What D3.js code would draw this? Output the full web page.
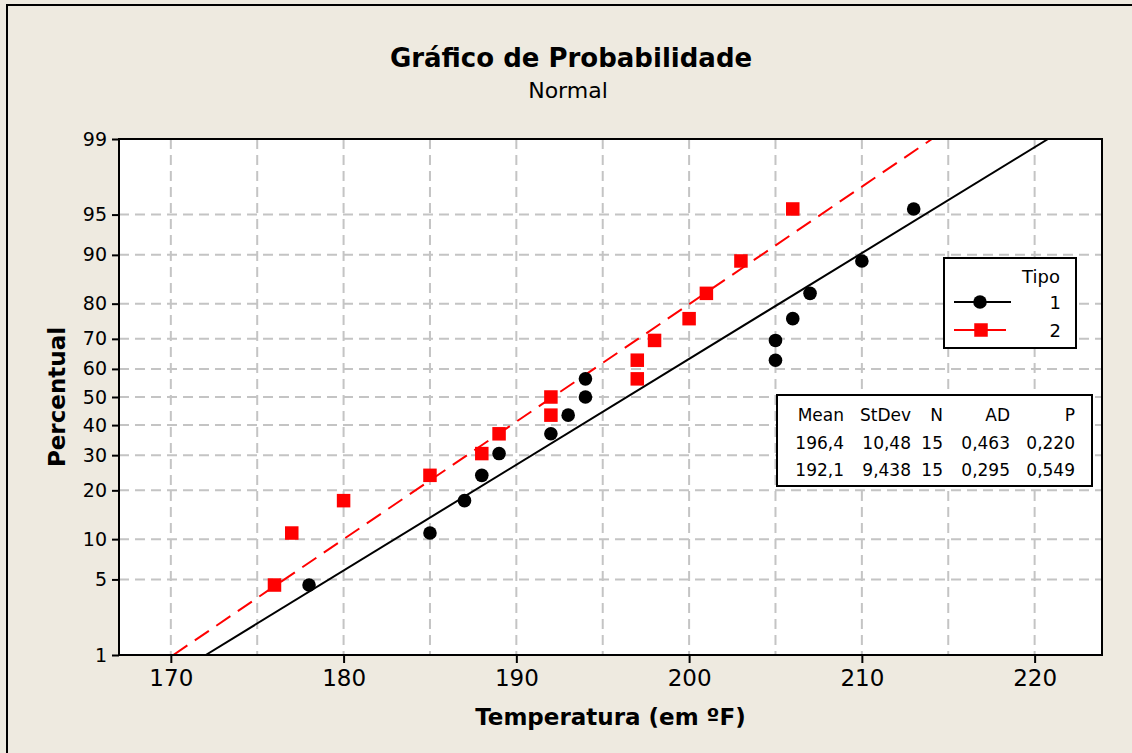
<!DOCTYPE html>
<html>
<head>
<meta charset="utf-8">
<script src="https://cdn.jsdelivr.net/npm/d3@7"></script>
<style>
  html, body { margin: 0; padding: 0; background: #EEEAE0; }
  svg { display: block; font-family: 'DejaVu Sans', sans-serif; }
</style>
</head>
<body>
<svg id="chart" width="1132" height="753"></svg>
<script>
// Normal probability plot — two groups (Tipo 1 / Tipo 2) with fitted lines

const tipo1Temps = [178, 185, 187, 188, 189, 192, 193, 194, 194, 205, 205, 206, 207, 210, 213];
const tipo2Temps = [176, 177, 180, 185, 188, 189, 192, 192, 197, 197, 198, 200, 201, 203, 206];
// plotting positions (percent)
const percentPos = [4.5, 11.0, 17.5, 24.0, 30.5, 37.0, 43.5, 50.0, 56.5, 63.0, 69.5, 76.0, 82.5, 89.0, 95.5];

const yTicks = [1, 5, 10, 20, 30, 40, 50, 60, 70, 80, 90, 95, 99];
const xTicks = [170, 180, 190, 200, 210, 220];
const xGrid = [170, 175, 180, 185, 190, 195, 200, 205, 210, 215, 220];

const seriesNames = ['1', '2'];
const fitMean = [196.4, 192.1];
const fitStDev = [10.48, 9.438];

const statsHeader = ['Mean', 'StDev', 'N', 'AD', 'P'];
const statsRows = [
  ['196,4', '10,48', '15', '0,463', '0,220'],
  ['192,1', '9,438', '15', '0,295', '0,549']
];

// ─── Helpers ────────────────────────────────────────────────

// inverse standard normal CDF (Acklam)
function probit(p) {
  const a = [-3.969683028665376e+01, 2.209460984245205e+02, -2.759285104469687e+02, 1.383577518672690e+02, -3.066479806614716e+01, 2.506628277459239e+00];
  const b = [-5.447609879822406e+01, 1.615858368580409e+02, -1.556989798598866e+02, 6.680131188771972e+01, -1.328068155288572e+01];
  const c = [-7.784894002430293e-03, -3.223964580411365e-01, -2.400758277161838e+00, -2.549732539343734e+00, 4.374664141464968e+00, 2.938163982698783e+00];
  const d = [7.784695709041462e-03, 3.224671290700398e-01, 2.445134137142996e+00, 3.754408661907416e+00];
  const pl = 0.02425;
  let q, r;
  if (p < pl) {
    q = Math.sqrt(-2 * Math.log(p));
    return (((((c[0]*q+c[1])*q+c[2])*q+c[3])*q+c[4])*q+c[5]) / ((((d[0]*q+d[1])*q+d[2])*q+d[3])*q+1);
  }
  if (p <= 1 - pl) {
    q = p - 0.5; r = q * q;
    return (((((a[0]*r+a[1])*r+a[2])*r+a[3])*r+a[4])*r+a[5])*q / (((((b[0]*r+b[1])*r+b[2])*r+b[3])*r+b[4])*r+1);
  }
  q = Math.sqrt(-2 * Math.log(1 - p));
  return -(((((c[0]*q+c[1])*q+c[2])*q+c[3])*q+c[4])*q+c[5]) / ((((d[0]*q+d[1])*q+d[2])*q+d[3])*q+1);
}

const svg = d3.select('#chart');

// outer frame
svg.append('rect')
  .attr('x', 7).attr('y', 5).attr('width', 1140).attr('height', 760)
  .attr('fill', '#EEEAE0').attr('stroke', '#000').attr('stroke-width', 2);

const x0 = 119, x1 = 1102, y0 = 139, y1 = 655;

const xScale = d3.scaleLinear().domain([167, 223.9]).range([x0, x1]);
const zScale = d3.scaleLinear().domain([probit(0.01), probit(0.99)]).range([y1, y0]);
const yScale = pct => zScale(probit(pct / 100));

// plot background
svg.append('rect')
  .attr('x', x0).attr('y', y0).attr('width', x1 - x0).attr('height', y1 - y0)
  .attr('fill', '#fff');

// grid
const grid = svg.append('g').attr('stroke', '#C4C4C4').attr('stroke-width', 2).attr('stroke-dasharray', '10,6');
grid.selectAll('.gx').data(xGrid).enter().append('line')
  .attr('x1', d => xScale(d)).attr('x2', d => xScale(d))
  .attr('y1', y0).attr('y2', y1);
grid.selectAll('.gy').data(yTicks.slice(1, -1)).enter().append('line')
  .attr('x1', x0).attr('x2', x1)
  .attr('y1', d => yScale(d)).attr('y2', d => yScale(d));

// fitted lines
svg.append('clipPath').attr('id', 'plotclip').append('rect')
  .attr('x', x0).attr('y', y0).attr('width', x1 - x0).attr('height', y1 - y0);

const colors = ['#000000', '#FF0000'];
const fitG = svg.append('g').attr('clip-path', 'url(#plotclip)');
fitMean.forEach((m, i) => {
  const zLo = probit(0.01), zHi = probit(0.99);
  fitG.append('line')
    .attr('x1', xScale(m + fitStDev[i] * zLo)).attr('y1', zScale(zLo))
    .attr('x2', xScale(m + fitStDev[i] * zHi)).attr('y2', zScale(zHi))
    .attr('stroke', colors[i]).attr('stroke-width', 2)
    .attr('stroke-dasharray', i === 1 ? '17,9' : null);
});

// points
svg.append('g').selectAll('circle').data(tipo1Temps).enter().append('circle')
  .attr('cx', d => xScale(d)).attr('cy', (d, i) => yScale(percentPos[i]))
  .attr('r', 6.8).attr('fill', '#000');

const sq = 13.5;
svg.append('g').selectAll('rect').data(tipo2Temps).enter().append('rect')
  .attr('x', d => xScale(d) - sq / 2).attr('y', (d, i) => yScale(percentPos[i]) - sq / 2)
  .attr('width', sq).attr('height', sq).attr('fill', '#FF0000');

// plot frame
svg.append('rect')
  .attr('x', x0).attr('y', y0).attr('width', x1 - x0).attr('height', y1 - y0)
  .attr('fill', 'none').attr('stroke', '#000').attr('stroke-width', 2);

// y axis
const yAxis = svg.append('g')
  .attr('transform', `translate(${x0},0)`)
  .call(d3.axisLeft(zScale).tickValues(yTicks.map(p => probit(p / 100)))
    .tickFormat((d, i) => yTicks[i]).tickSize(7).tickPadding(5));
yAxis.select('.domain').remove();
yAxis.selectAll('line').attr('stroke', '#000').attr('stroke-width', 2);
yAxis.selectAll('text').attr('font-size', '19px').attr('fill', '#000')
  .attr('font-family', 'DejaVu Sans');

// x axis
const xAxis = svg.append('g')
  .attr('transform', `translate(0,${y1})`)
  .call(d3.axisBottom(xScale).tickValues(xTicks).tickSize(8).tickPadding(7));
xAxis.select('.domain').remove();
xAxis.selectAll('line').attr('stroke', '#000').attr('stroke-width', 2);
xAxis.selectAll('text').attr('font-size', '23px').attr('fill', '#000')
  .attr('font-family', 'DejaVu Sans');

// titles
svg.append('text').attr('x', 571).attr('y', 67).attr('text-anchor', 'middle')
  .attr('font-size', '26px').attr('font-weight', 'bold').text('Gráfico de Probabilidade');
svg.append('text').attr('x', 568).attr('y', 98).attr('text-anchor', 'middle')
  .attr('font-size', '22px').text('Normal');
svg.append('text').attr('x', (x0 + x1) / 2).attr('y', 725).attr('text-anchor', 'middle')
  .attr('font-size', '23px').attr('font-weight', 'bold').text('Temperatura (em ºF)');
svg.append('text').attr('transform', `translate(65,${(y0 + y1) / 2}) rotate(-90)`)
  .attr('text-anchor', 'middle')
  .attr('font-size', '23px').attr('font-weight', 'bold').text('Percentual');

// legend
const leg = svg.append('g');
leg.append('rect').attr('x', 944).attr('y', 258).attr('width', 132).attr('height', 90)
  .attr('fill', '#fff').attr('stroke', '#000').attr('stroke-width', 2);
leg.append('text').attr('x', 1041).attr('y', 283).attr('text-anchor', 'middle')
  .attr('font-size', '18px').text('Tipo');
seriesNames.forEach((name, i) => {
  const ly = 302 + i * 28;
  leg.append('line').attr('x1', 954).attr('x2', i ? 1006 : 1011).attr('y1', ly).attr('y2', ly)
    .attr('stroke', colors[i]).attr('stroke-width', 2);
  if (i === 0) {
    leg.append('circle').attr('cx', 980).attr('cy', ly).attr('r', 6.8).attr('fill', colors[i]);
  } else {
    leg.append('rect').attr('x', 981 - sq / 2).attr('y', ly - sq / 2).attr('width', sq).attr('height', sq)
      .attr('fill', colors[i]);
  }
  leg.append('text').attr('x', 1061).attr('y', ly + 7).attr('text-anchor', 'end')
    .attr('font-size', '18px').text(name);
});

// stats table
const tab = svg.append('g');
tab.append('rect').attr('x', 777).attr('y', 395).attr('width', 315).attr('height', 91)
  .attr('fill', '#fff').attr('stroke', '#000').attr('stroke-width', 2);
const colRight = [844, 911, 943, 1010, 1075];
[statsHeader, ...statsRows].forEach((row, r) => {
  row.forEach((cell, c) => {
    tab.append('text').attr('x', colRight[c]).attr('y', 421 + r * 27.5)
      .attr('text-anchor', 'end').attr('font-size', '17px').text(cell);
  });
});
</script>
</body>
</html>
